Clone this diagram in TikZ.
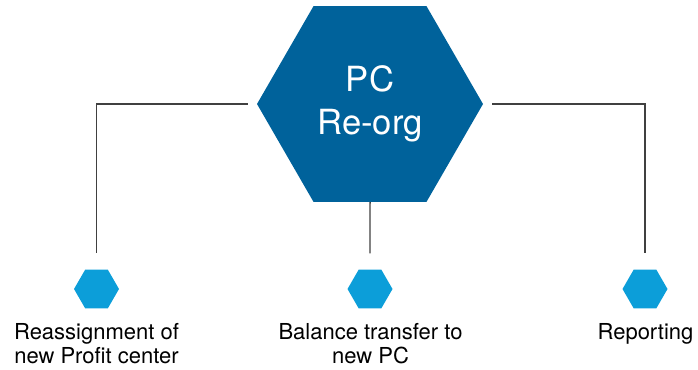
\documentclass[tikz,border=0pt]{standalone}
\usepackage{fontspec}
\setmainfont{TeX Gyre Heros}
\usepackage{tikz}
\usetikzlibrary{shapes.geometric}

\definecolor{pcdark}{RGB}{0,98,155}
\definecolor{pclight}{RGB}{12,158,217}
\definecolor{linkgray}{RGB}{64,64,64}

\begin{document}
\begin{tikzpicture}[x=0.75pt, y=-0.75pt, link/.style={draw=linkgray, line width=1.1pt}, hexa/.style={regular polygon, regular polygon sides=6, inner sep=0pt}, big/.style={hexa, minimum size=169.5pt, fill=pcdark, text=white, align=center, font=\fontsize{26}{32}\selectfont}, small/.style={hexa, minimum size=33.75pt, fill=pclight}, caption/.style={anchor=north, inner sep=0pt, align=center, font=\fontsize{16.5}{18}\selectfont}]
		\useasboundingbox (0,0) rectangle (698,369);
		\node[big]		(pc) at (370, 104) {PC\\Re-org};
		\node[small]	(reassign) at (96.5, 289) {};
		\node[small]	(transfer) at (370, 289) {};
		\node[small]	(report) at (645, 289) {};
		\node[caption]	(reassigntext) at (96.5, 323) {Reassignment of\\new Profit center};
		\node[caption]	(transfertext) at (370.5, 323) {Balance transfer to\\new PC};
		\node[caption]	(reporttext) at (645.5, 323) {Reporting};
		
		\draw[link, shorten <=6.75pt, shorten >=12pt] (pc.west) -| (reassign.north);
		\draw[link, shorten <=6.75pt, shorten >=12pt] (pc.east) -| (report.north);
		\draw[link, shorten >=12pt] (pc.south) -- (transfer.north);
	\end{tikzpicture}
\end{document}
